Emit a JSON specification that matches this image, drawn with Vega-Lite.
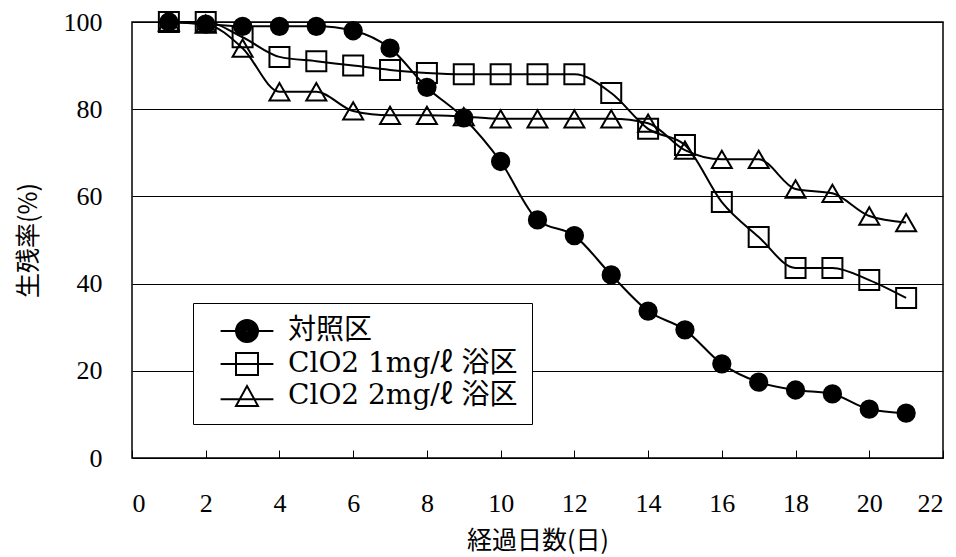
{
  "$schema": "https://vega.github.io/schema/vega-lite/v6.json",
  "autosize": {"type": "none"},
  "padding": {"left": 132, "top": 22, "right": 13, "bottom": 99},
  "width": 811,
  "height": 436,
  "background": "white",
  "config": {
    "view": {"stroke": "black", "strokeWidth": 1.5},
    "axis": {"labelColor": "black", "titleColor": "black", "titleFontWeight": "normal"}
  },
  "data": {"values": [
    {"day": 1, "series": "対照区", "value": 100},
    {"day": 2, "series": "対照区", "value": 99.5},
    {"day": 3, "series": "対照区", "value": 99},
    {"day": 4, "series": "対照区", "value": 99},
    {"day": 5, "series": "対照区", "value": 99},
    {"day": 6, "series": "対照区", "value": 98},
    {"day": 7, "series": "対照区", "value": 94},
    {"day": 8, "series": "対照区", "value": 85},
    {"day": 9, "series": "対照区", "value": 78},
    {"day": 10, "series": "対照区", "value": 68},
    {"day": 11, "series": "対照区", "value": 54.6},
    {"day": 12, "series": "対照区", "value": 51},
    {"day": 13, "series": "対照区", "value": 42},
    {"day": 14, "series": "対照区", "value": 33.7},
    {"day": 15, "series": "対照区", "value": 29.4},
    {"day": 16, "series": "対照区", "value": 21.6},
    {"day": 17, "series": "対照区", "value": 17.4},
    {"day": 18, "series": "対照区", "value": 15.6},
    {"day": 19, "series": "対照区", "value": 14.7},
    {"day": 20, "series": "対照区", "value": 11.2},
    {"day": 21, "series": "対照区", "value": 10.3},
    {"day": 1, "series": "ClO2 1mg/ℓ 浴区", "value": 100},
    {"day": 2, "series": "ClO2 1mg/ℓ 浴区", "value": 100},
    {"day": 3, "series": "ClO2 1mg/ℓ 浴区", "value": 96.5},
    {"day": 4, "series": "ClO2 1mg/ℓ 浴区", "value": 92},
    {"day": 5, "series": "ClO2 1mg/ℓ 浴区", "value": 91},
    {"day": 6, "series": "ClO2 1mg/ℓ 浴区", "value": 90},
    {"day": 7, "series": "ClO2 1mg/ℓ 浴区", "value": 89},
    {"day": 8, "series": "ClO2 1mg/ℓ 浴区", "value": 88.3},
    {"day": 9, "series": "ClO2 1mg/ℓ 浴区", "value": 88},
    {"day": 10, "series": "ClO2 1mg/ℓ 浴区", "value": 88},
    {"day": 11, "series": "ClO2 1mg/ℓ 浴区", "value": 88},
    {"day": 12, "series": "ClO2 1mg/ℓ 浴区", "value": 88},
    {"day": 13, "series": "ClO2 1mg/ℓ 浴区", "value": 83.7},
    {"day": 14, "series": "ClO2 1mg/ℓ 浴区", "value": 75.5},
    {"day": 15, "series": "ClO2 1mg/ℓ 浴区", "value": 71.8},
    {"day": 16, "series": "ClO2 1mg/ℓ 浴区", "value": 58.7},
    {"day": 17, "series": "ClO2 1mg/ℓ 浴区", "value": 50.7},
    {"day": 18, "series": "ClO2 1mg/ℓ 浴区", "value": 43.6},
    {"day": 19, "series": "ClO2 1mg/ℓ 浴区", "value": 43.6},
    {"day": 20, "series": "ClO2 1mg/ℓ 浴区", "value": 40.8},
    {"day": 21, "series": "ClO2 1mg/ℓ 浴区", "value": 36.7},
    {"day": 1, "series": "ClO2 2mg/ℓ 浴区", "value": 100},
    {"day": 2, "series": "ClO2 2mg/ℓ 浴区", "value": 99.5},
    {"day": 3, "series": "ClO2 2mg/ℓ 浴区", "value": 94},
    {"day": 4, "series": "ClO2 2mg/ℓ 浴区", "value": 84},
    {"day": 5, "series": "ClO2 2mg/ℓ 浴区", "value": 84},
    {"day": 6, "series": "ClO2 2mg/ℓ 浴区", "value": 79.6},
    {"day": 7, "series": "ClO2 2mg/ℓ 浴区", "value": 78.6},
    {"day": 8, "series": "ClO2 2mg/ℓ 浴区", "value": 78.6},
    {"day": 9, "series": "ClO2 2mg/ℓ 浴区", "value": 78.3},
    {"day": 10, "series": "ClO2 2mg/ℓ 浴区", "value": 77.8},
    {"day": 11, "series": "ClO2 2mg/ℓ 浴区", "value": 77.8},
    {"day": 12, "series": "ClO2 2mg/ℓ 浴区", "value": 77.8},
    {"day": 13, "series": "ClO2 2mg/ℓ 浴区", "value": 77.8},
    {"day": 14, "series": "ClO2 2mg/ℓ 浴区", "value": 76.8},
    {"day": 15, "series": "ClO2 2mg/ℓ 浴区", "value": 70.6},
    {"day": 16, "series": "ClO2 2mg/ℓ 浴区", "value": 68.5},
    {"day": 17, "series": "ClO2 2mg/ℓ 浴区", "value": 68.5},
    {"day": 18, "series": "ClO2 2mg/ℓ 浴区", "value": 61.7},
    {"day": 19, "series": "ClO2 2mg/ℓ 浴区", "value": 60.7},
    {"day": 20, "series": "ClO2 2mg/ℓ 浴区", "value": 55.5},
    {"day": 21, "series": "ClO2 2mg/ℓ 浴区", "value": 54}
  ]},
  "encoding": {
    "x": {
      "field": "day", "type": "quantitative",
      "scale": {"domain": [0, 22], "nice": false},
      "axis": {
        "values": [0, 2, 4, 6, 8, 10, 12, 14, 16, 18, 20, 22],
        "grid": false, "domain": false,
        "tickSize": -8, "tickColor": "black", "tickWidth": 1,
        "labelPadding": 40,
        "labelFont": "Liberation Serif", "labelFontSize": 26,
        "title": "経過日数(日)",
        "titleFont": "Noto Sans CJK JP", "titleFontSize": 25, "titlePadding": 12
      }
    },
    "y": {
      "field": "value", "type": "quantitative",
      "scale": {"domain": [0, 100], "nice": false},
      "axis": {
        "values": [0, 20, 40, 60, 80, 100],
        "grid": true, "gridColor": "black", "gridWidth": 1, "gridOpacity": 1,
        "domain": false, "ticks": false,
        "labelPadding": 30,
        "labelFont": "Liberation Serif", "labelFontSize": 26,
        "title": "生残率(%)",
        "titleFont": "Noto Sans CJK JP", "titleFontSize": 25, "titlePadding": 22
      }
    }
  },
  "layer": [
    {
      "mark": {"type": "line", "color": "black", "strokeWidth": 2, "interpolate": "monotone"},
      "encoding": {"detail": {"field": "series"}}
    },
    {
      "mark": {"type": "point", "stroke": "black", "strokeWidth": 2, "opacity": 1},
      "encoding": {
        "shape": {
          "field": "series", "type": "nominal",
          "scale": {"domain": ["対照区", "ClO2 1mg/ℓ 浴区", "ClO2 2mg/ℓ 浴区"], "range": ["circle", "square", "triangle-up"]},
          "legend": null
        },
        "fill": {"condition": {"test": "datum.series == '対照区'", "value": "black"}, "value": "transparent"},
        "size": {"condition": {"test": "datum.series == '対照区'", "value": 300}, "value": 400}
      }
    },
    {
      "mark": {"type": "point", "color": "black", "stroke": "black", "filled": false, "strokeWidth": 2, "opacity": 0},
      "encoding": {
        "shape": {
          "field": "series", "type": "nominal",
          "scale": {
            "domain": ["対照区", "ClO2 1mg/ℓ 浴区", "ClO2 2mg/ℓ 浴区"],
            "range": [
              "M-2.4,0H-1M1,0H2.4M-1,0A1,1,0,1,1,1,0A1,1,0,1,1,-1,0M-0.84,0A0.84,0.84,0,1,1,0.84,0A0.84,0.84,0,1,1,-0.84,0M-0.68,0A0.68,0.68,0,1,1,0.68,0A0.68,0.68,0,1,1,-0.68,0M-0.52,0A0.52,0.52,0,1,1,0.52,0A0.52,0.52,0,1,1,-0.52,0M-0.36,0A0.36,0.36,0,1,1,0.36,0A0.36,0.36,0,1,1,-0.36,0M-0.2,0A0.2,0.2,0,1,1,0.2,0A0.2,0.2,0,1,1,-0.2,0M-0.06,0A0.06,0.06,0,1,1,0.06,0A0.06,0.06,0,1,1,-0.06,0",
              "M-2.4,0H2.4M-1,-1H1V1H-1Z",
              "M-2.4,0.3H2.4M0,-0.9L1,0.9H-1Z"
            ]
          },
          "legend": {
            "title": null,
            "orient": "none", "legendX": 61, "legendY": 281,
            "strokeColor": "black", "fillColor": "white", "padding": 14,
            "labelFont": "DejaVu Serif, Noto Sans CJK JP", "labelFontSize": 28, "labelColor": "black", "labelLimit": 400,
            "symbolSize": 484, "symbolOffset": 26, "labelOffset": 27, "rowPadding": 3,
            "symbolStrokeColor": "black", "symbolStrokeWidth": 2, "symbolOpacity": 1, "symbolFillColor": "transparent"
          }
        }
      }
    }
  ],
  "resolve": {"scale": {"shape": "independent"}}
}
